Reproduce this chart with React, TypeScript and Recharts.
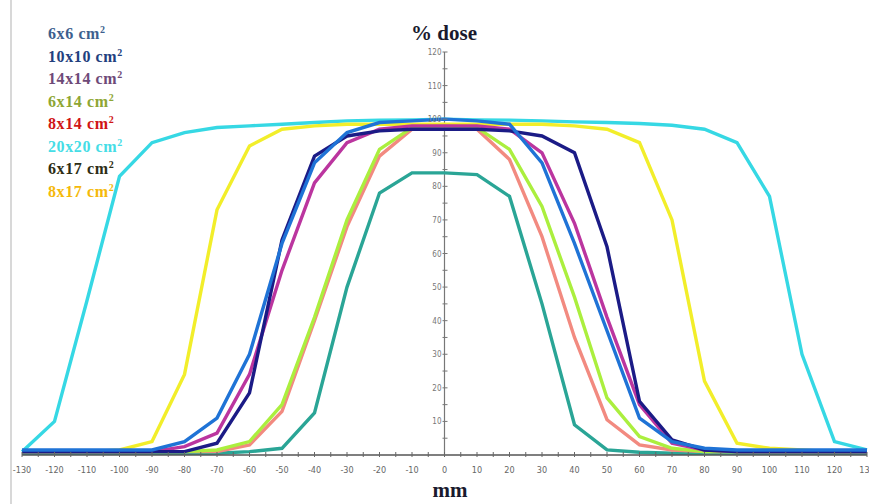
import React from "react";
import { LineChart, Line, XAxis, YAxis, ReferenceLine } from "recharts";

// distance from central axis, mm
const positions = [
  -130, -120, -110, -100, -90, -80, -70, -60, -50, -40, -30, -20, -10, 0,
  10, 20, 30, 40, 50, 60, 70, 80, 90, 100, 110, 120, 130,
];

// % dose per field size
const dose6x6 = [0.5, 0.5, 0.5, 0.5, 0.5, 0.5, 0.5, 1, 2, 12.5, 50, 78, 84, 84, 83.5, 77, 45, 9, 1.5, 0.8, 0.5, 0.5, 0.5, 0.5, 0.5, 0.5, 0.5];
const dose10x10 = [1.5, 1.5, 1.5, 1.5, 1.5, 4, 11, 30, 63, 87, 96, 99, 99.5, 100, 99.5, 98.5, 87, 63, 37, 11, 4, 2, 1.5, 1.5, 1.5, 1.5, 1.5];
const dose14x14 = [1, 1, 1, 1, 1, 2.5, 6.5, 24, 55, 81, 93, 97, 98, 98, 98, 97, 90, 69, 41, 15, 3.5, 1.5, 1, 1, 1, 1, 1];
const dose6x14 = [1, 1, 1, 1, 1, 1, 1.5, 4, 15, 41, 70, 91, 97.5, 98, 97.5, 91, 74, 47, 17, 5.5, 2, 1, 1, 1, 1, 1, 1];
const dose8x14 = [1, 1, 1, 1, 1, 1, 1, 3, 13, 40, 68, 89, 97, 97, 97, 88, 65, 35, 10.5, 3, 1.5, 1, 1, 1, 1, 1, 1];
const dose20x20 = [1, 10, 46, 83, 93, 96, 97.5, 98, 98.5, 99, 99.5, 99.7, 99.8, 100, 99.8, 99.7, 99.5, 99.2, 99, 98.7, 98.2, 97, 93, 77, 30, 4, 1.5];
const dose6x17 = [1, 1, 1, 1, 1, 1, 3.5, 18.5, 64, 89, 95, 96.5, 97, 97, 97, 96.5, 95, 90, 62, 16, 4.5, 1.5, 1, 1, 1, 1, 1];
const dose8x17 = [1, 1, 1, 1.5, 4, 24, 73, 92, 97, 98, 98.5, 98.5, 98.5, 98.5, 98.5, 98.5, 98.5, 98, 97, 93, 70, 22, 3.5, 2, 1.5, 1, 1];

const fieldNames = ["6x6", "10x10", "14x14", "6x14", "8x14", "20x20", "6x17", "8x17"];
const fieldValues = [dose6x6, dose10x10, dose14x14, dose6x14, dose8x14, dose20x20, dose6x17, dose8x17];
const lineColors = ["#2aa596", "#1f73d6", "#bb359f", "#abef3e", "#f28a80", "#36d8e4", "#1b1b86", "#f2ee2a"];
const legendColors = ["#3d5f8e", "#22407e", "#6e4a78", "#8ea633", "#d01515", "#45dde6", "#2d2d14", "#f5b90a"];
// order the lines are painted in
const drawOrder = [5, 7, 0, 4, 3, 2, 6, 1];

const xTicks = Array.from({ length: 53 }, (_, i) => -130 + i * 5);
const yTicks = Array.from({ length: 24 }, (_, i) => 5 + i * 5);

const data = positions.map((x, i) => {
  const row: Record<string, number> = { x };
  fieldNames.forEach((n, k) => (row[n] = fieldValues[k][i]));
  return row;
});

const W = 869;
const H = 504;
const Y_W = 1;
const M = { top: 52, right: 2, left: 21, bottom: 19 };
const plotLeft = M.left + Y_W;
const axisX = plotLeft + (W - plotLeft - M.right) / 2;

const tickFont = "'Liberation Sans Narrow', 'DejaVu Sans Condensed', sans-serif";

const XTick = (props: any) => {
  const { x, y, payload } = props;
  const v = payload.value;
  return (
    <g>
      <line x1={x} x2={x} y1={y - 3} y2={y + 2} stroke="#666" />
      {v % 10 === 0 && (
        <text x={x} y={y + 18} textAnchor="middle" fontSize={9} fill="#666" fontFamily={tickFont}>
          {v}
        </text>
      )}
    </g>
  );
};

const YTick = (props: any) => {
  const { y, payload } = props;
  const v = payload.value;
  return (
    <g>
      <line x1={axisX - 2} x2={axisX + 3} y1={y} y2={y} stroke="#777" />
      {v % 10 === 0 && (
        <text x={axisX - 3} y={y + 3} textAnchor="end" fontSize={8} fill="#777" fontFamily={tickFont}>
          {v}
        </text>
      )}
    </g>
  );
};

export default function App() {
  return (
    <div style={{ position: "absolute", left: 0, top: 0, width: W, height: H, background: "#fff" }}>
      <div style={{ position: "absolute", left: 10, top: 0, width: 2, height: H, background: "#d8d8d8" }} />
      <LineChart width={W} height={H} data={data} margin={M}>
        <XAxis
          type="number"
          dataKey="x"
          domain={[-130, 130]}
          ticks={xTicks}
          interval={0}
          height={30}
          tickSize={0}
          tickMargin={0}
          tickLine={false}
          axisLine={{ stroke: "#555", strokeWidth: 1.5 }}
          tick={<XTick />}
        />
        <YAxis
          type="number"
          domain={[0, 120]}
          ticks={yTicks}
          interval={0}
          width={Y_W}
          tickSize={0}
          tickMargin={0}
          tickLine={false}
          axisLine={false}
          tick={<YTick />}
        />
        <ReferenceLine x={0} stroke="#777" strokeWidth={1.2} />
        {drawOrder.map((k) => (
          <Line
            key={fieldNames[k]}
            type="linear"
            dataKey={fieldNames[k]}
            stroke={lineColors[k]}
            strokeWidth={3.4}
            dot={false}
            isAnimationActive={false}
          />
        ))}
      </LineChart>
      <div
        style={{
          position: "absolute",
          left: 48,
          top: 23,
          fontFamily: "'Liberation Serif', 'Times New Roman', serif",
          fontWeight: "bold",
          fontSize: 16,
          lineHeight: "22.5px",
          letterSpacing: 0.6,
        }}
      >
        {fieldNames.map((n, k) => (
          <div key={n} style={{ color: legendColors[k] }}>
            {n} cm<sup style={{ fontSize: 10, verticalAlign: 6, lineHeight: 0 }}>2</sup>
          </div>
        ))}
      </div>
      <div
        style={{
          position: "absolute",
          left: 344,
          width: 200,
          top: 21,
          textAlign: "center",
          fontFamily: "'Liberation Serif', 'Times New Roman', serif",
          fontWeight: "bold",
          fontSize: 21,
          color: "#1a1a2e",
        }}
      >
        % dose
      </div>
      <div
        style={{
          position: "absolute",
          left: 350,
          width: 200,
          top: 478,
          textAlign: "center",
          fontFamily: "'Liberation Serif', 'Times New Roman', serif",
          fontWeight: "bold",
          fontSize: 21,
          color: "#1a1a2e",
        }}
      >
        mm
      </div>
    </div>
  );
}
